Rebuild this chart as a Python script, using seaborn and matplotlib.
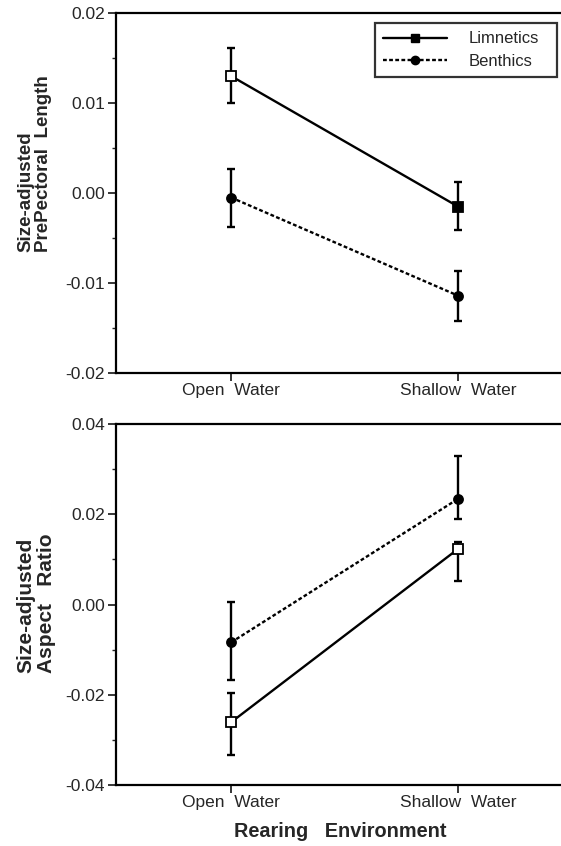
import numpy as np
import pandas as pd
import matplotlib
matplotlib.use("Agg")
import matplotlib.pyplot as plt
import seaborn as sns
from matplotlib.ticker import MultipleLocator, FormatStrFormatter
from matplotlib.lines import Line2D

sns.set_theme(style="ticks")
plt.rcParams['font.family'] = ['Liberation Sans', 'DejaVu Sans']

environments = ["Open  Water", "Shallow  Water"]
groups = ["Limnetics", "Benthics"]

# Panel 1: Size-adjusted PrePectoral Length
pp_limn = [0.0130, -0.0015]
pp_limn_lo = [0.0100, -0.0041]
pp_limn_hi = [0.0161, 0.0012]
pp_bent = [-0.0005, -0.0114]
pp_bent_lo = [-0.0038, -0.0142]
pp_bent_hi = [0.0027, -0.0087]

# Panel 2: Size-adjusted Aspect Ratio
ar_limn = [-0.0261, 0.0123]
ar_limn_lo = [-0.0334, 0.0053]
ar_limn_hi = [-0.0195, 0.0138]
ar_bent = [-0.0084, 0.0234]
ar_bent_lo = [-0.0167, 0.0190]
ar_bent_hi = [0.0005, 0.0330]

fig = plt.figure(figsize=(5.61, 8.46), dpi=100)
ax1 = fig.add_axes([0.2068, 0.5591, 0.80, 0.4255])
ax2 = fig.add_axes([0.2068, 0.0721, 0.80, 0.4267])

styles = {"Limnetics": dict(ls="-", marker="s"), "Benthics": dict(ls=(0, (1.6, 1.0)), marker="o")}

def panel(ax, data, hollow, ylim, major, minor, ylabel, ylsize, lx, ly):
    x = np.arange(len(environments))
    rows = []
    for g, (vals, lo, hi) in data.items():
        for i, e in enumerate(environments):
            rows.append(dict(group=g, env=e, x=x[i], y=vals[i], lo=lo[i], hi=hi[i]))
    df = pd.DataFrame(rows)
    for g in groups:
        d = df[df.group == g]
        st = styles[g]
        sns.lineplot(data=d, x="x", y="y", ax=ax, color="black", lw=1.7,
                     linestyle=st["ls"], legend=False, sort=False)
        ax.errorbar(d.x, d.y, yerr=[d.y - d.lo, d.hi - d.y], fmt="none",
                    ecolor="black", elinewidth=1.7, capsize=2.8, capthick=1.7)
        for xi, yi, h in zip(d.x, d.y, hollow[g]):
            ax.plot(xi, yi, marker=st["marker"], ms=6.5,
                    mfc="white" if h else "black", mec="black", mew=1.3, ls="none", zorder=5)
    ax.set_xlim(-0.507, 1.471)
    ax.set_ylim(*ylim)
    ax.set_xticks(x)
    ax.set_xticklabels(environments, fontsize=12.5)
    ax.yaxis.set_major_locator(MultipleLocator(major))
    ax.yaxis.set_minor_locator(MultipleLocator(minor))
    ax.yaxis.set_major_formatter(FormatStrFormatter("%.2f"))
    ax.tick_params(axis="y", which="major", length=6, width=1.3, labelsize=12.5, direction="out", pad=2)
    ax.tick_params(axis="y", which="minor", length=3, width=1.0, direction="out")
    ax.tick_params(axis="x", length=6, width=1.3, direction="out", pad=1)
    for s in ["left", "bottom", "top"]:
        ax.spines[s].set_linewidth(1.6)
        ax.spines[s].set_color("black")
    ax.spines["right"].set_visible(False)
    ax.set_xlabel("")
    ax.set_ylabel(ylabel, fontsize=ylsize, fontweight="bold", linespacing=1.05,
                  ha="left", va="center", multialignment="left")
    ax.yaxis.set_label_coords(lx, ly)

panel(ax1, {"Limnetics": (pp_limn, pp_limn_lo, pp_limn_hi),
            "Benthics": (pp_bent, pp_bent_lo, pp_bent_hi)},
      {"Limnetics": [True, False], "Benthics": [False, False]},
      (-0.02, 0.02), 0.01, 0.005, "Size-adjusted\nPrePectoral  Length", 13.5, -0.1805, 0.336)
panel(ax2, {"Limnetics": (ar_limn, ar_limn_lo, ar_limn_hi),
            "Benthics": (ar_bent, ar_bent_lo, ar_bent_hi)},
      {"Limnetics": [True, True], "Benthics": [False, False]},
      (-0.04, 0.04), 0.02, 0.01, "Size-adjusted\nAspect   Ratio", 15, -0.178, 0.310)
ax2.set_xlabel("Rearing   Environment", fontsize=14.3, fontweight="bold", labelpad=9)

handles = [Line2D([], [], color="black", lw=1.7, ls=styles[g]["ls"], marker=styles[g]["marker"],
                  ms=6, mfc="black", mec="black") for g in groups]
leg = ax1.legend(handles, groups, loc="upper left", bbox_to_anchor=(0.577, 0.828, 0.406, 0.144),
                 mode="expand", frameon=True, fancybox=False, edgecolor="black", fontsize=12,
                 handlelength=3.8, handletextpad=1.3, borderpad=0.5, labelspacing=0.45,
                 borderaxespad=0)
leg.get_frame().set_linewidth(1.6)

fig.savefig("out.png", dpi=100)
